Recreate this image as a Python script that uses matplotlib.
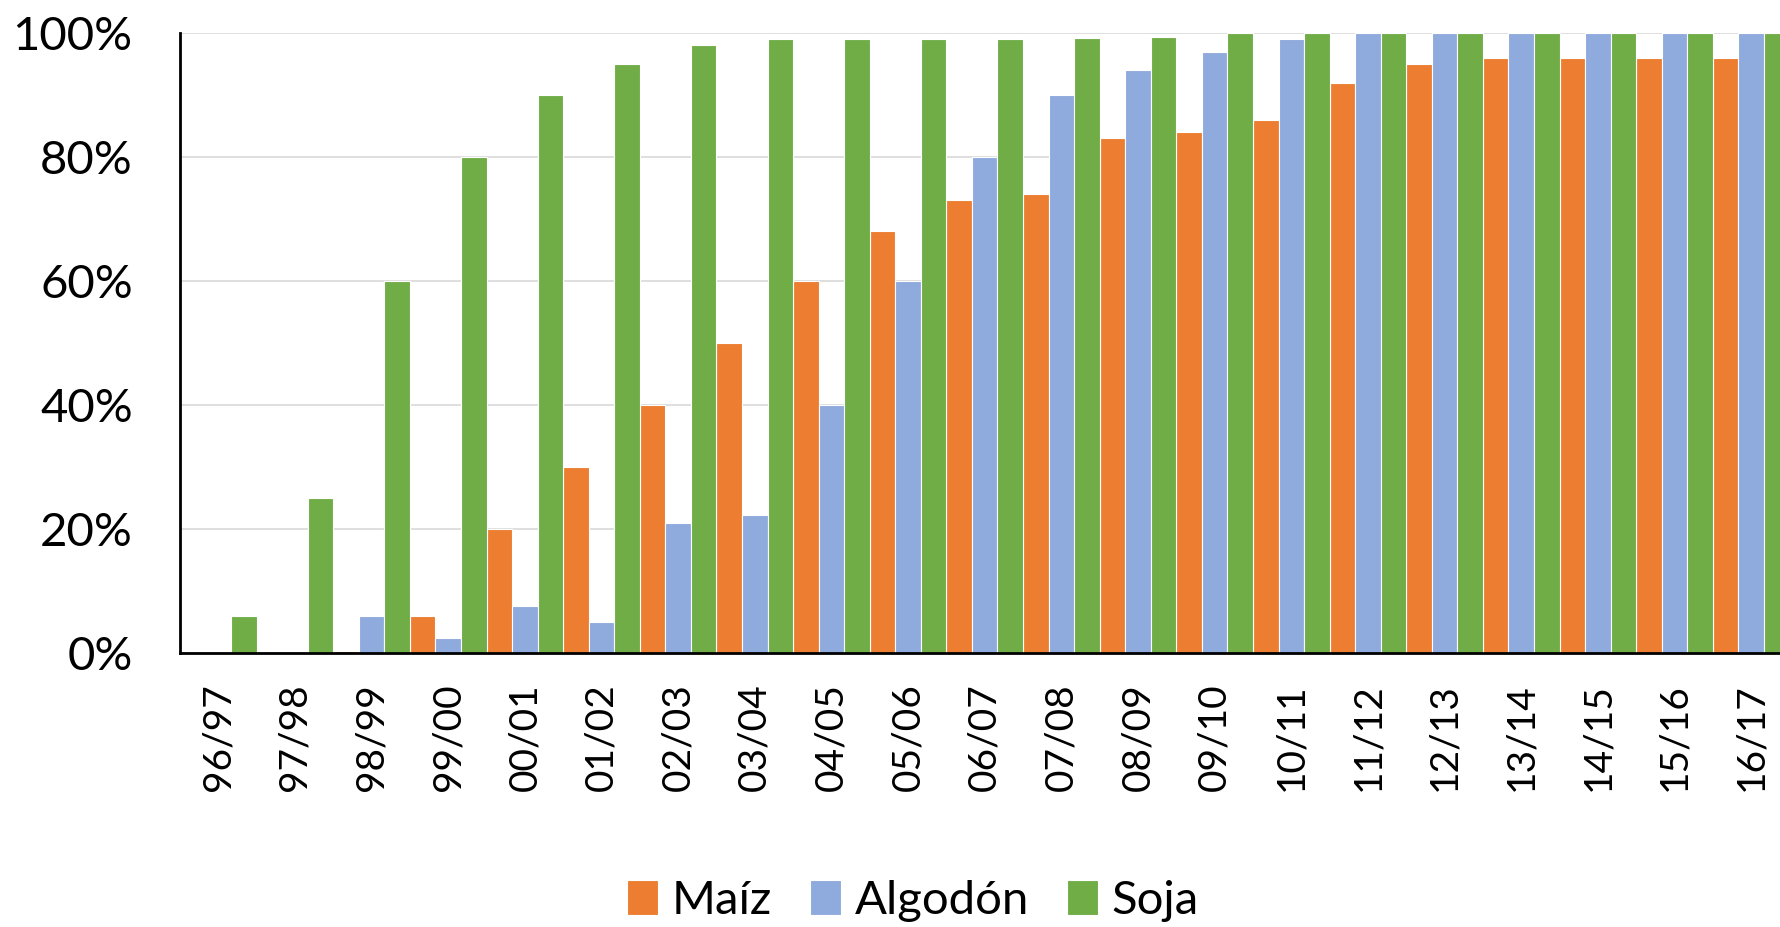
import matplotlib
matplotlib.use("Agg")
import matplotlib.pyplot as plt
import numpy as np
from matplotlib.ticker import FuncFormatter

plt.rcParams['font.family'] = ['Lato', 'DejaVu Sans']

categories = ['96/97', '97/98', '98/99', '99/00', '00/01', '01/02', '02/03',
              '03/04', '04/05', '05/06', '06/07', '07/08', '08/09', '09/10',
              '10/11', '11/12', '12/13', '13/14', '14/15', '15/16', '16/17']
maiz = [0, 0, 0.3, 6, 20, 30, 40, 50, 60, 68, 73, 74, 83, 84, 86, 92, 95, 96, 96, 96, 96]
algodon = [0, 0, 6, 2.5, 7.6, 5, 21, 22.2, 40, 60, 80, 90, 94, 97, 99, 100, 100, 100, 100, 100, 100]
soja = [6, 25, 60, 80, 90, 95, 98, 99, 99, 99, 99, 99.2, 99.4, 100, 100, 100, 100, 100, 100, 100, 100]
series_names = ['Maíz', 'Algodón', 'Soja']
colors = ['#ED7D31', '#8FAADC', '#70AD47']

fig = plt.figure(figsize=(17.81, 9.27), dpi=100)
ax = fig.add_axes([180/1781, 1-653/927, 1-180/1781, (653-33)/927])

x = np.arange(len(categories))
w = 1/3
for i, (vals, name, c) in enumerate(zip([maiz, algodon, soja], series_names, colors)):
    ax.bar(x + (i-1)*w, vals, width=w, color=c, edgecolor='white', linewidth=0.8,
           label=name, zorder=2)

ax.set_xlim(-0.5, 20.39)
ax.set_ylim(0, 100)
ax.set_yticks([0, 20, 40, 60, 80, 100])
ax.yaxis.set_major_formatter(FuncFormatter(lambda v, p: f"{int(v)}%"))
ax.yaxis.grid(True, color='#D9D9D9', linewidth=1.2, zorder=0)
ax.set_axisbelow(True)
ax.set_xticks(x)
ax.set_xticklabels(categories, rotation=90)

for s in ['top', 'right']:
    ax.spines[s].set_visible(False)
ax.spines['left'].set_linewidth(2)
ax.spines['bottom'].set_linewidth(2)
ax.spines['left'].set_color('black')
ax.spines['bottom'].set_color('black')
ax.spines['bottom'].set_zorder(3)

ax.tick_params(axis='y', length=0, pad=34, labelsize=34, colors='black')
ax.tick_params(axis='x', length=0, pad=22, labelsize=28, colors='black')

leg = fig.legend(loc='center', bbox_to_anchor=(913/1781, 1-901/927), ncol=3,
                 frameon=False, fontsize=34, handlelength=0.65, handleheight=0.75,
                 handletextpad=0.3, columnspacing=0.8)

fig.savefig('out.png', dpi=100)
